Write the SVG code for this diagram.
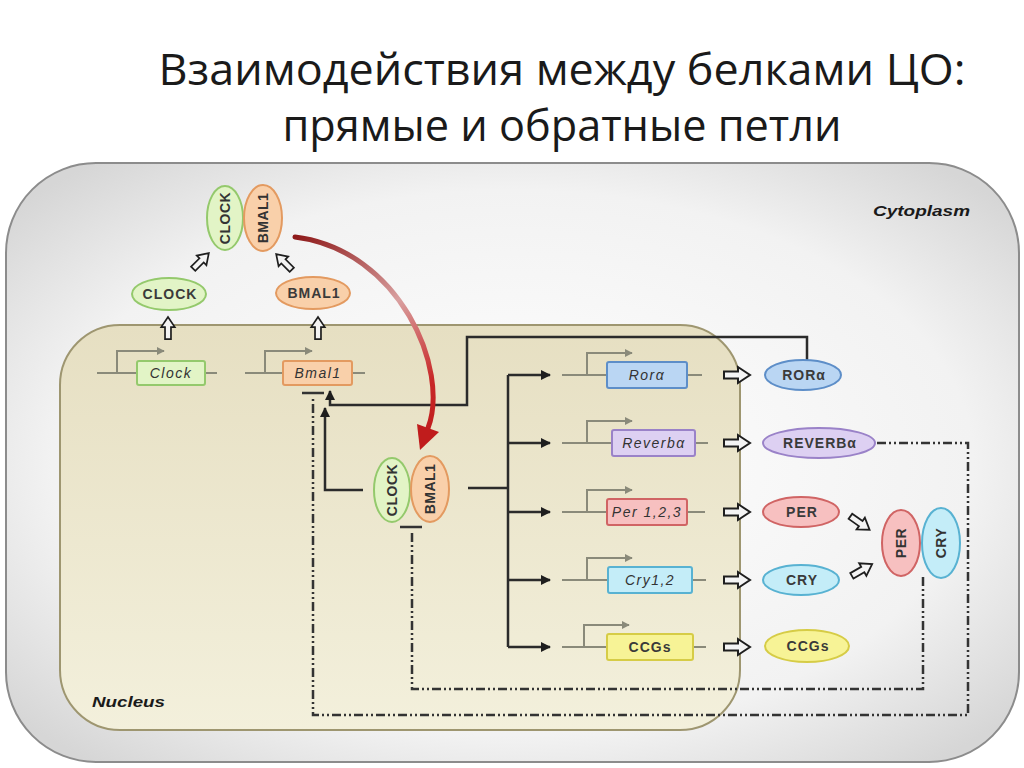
<svg xmlns="http://www.w3.org/2000/svg" width="1024" height="768" viewBox="0 0 1024 768">
<defs>
<style>
.title{font-family:"Open Sans","Liberation Sans",sans-serif;font-size:44px;fill:#1a1a1a;text-anchor:middle}
.lbl{font-family:"Liberation Sans",Arial,sans-serif;font-size:14px;font-weight:bold;fill:#3a3a3a;text-anchor:middle;letter-spacing:1px}
.gene{font-family:"Liberation Sans",Arial,sans-serif;font-size:14px;font-style:italic;fill:#333;text-anchor:middle;letter-spacing:1.5px}
.comp{font-family:"Liberation Sans",Arial,sans-serif;font-size:14px;font-weight:bold;fill:#333;text-anchor:middle;letter-spacing:0.5px}
.region{font-family:"Liberation Sans",Arial,sans-serif;font-size:15px;font-weight:bold;font-style:italic;fill:#1a1a1a}
.ln{fill:none;stroke:#2b2b2b;stroke-width:2.5}
.gl{fill:none;stroke:#8a8a7a;stroke-width:2}
.dd{fill:none;stroke:#333;stroke-width:2.5;stroke-dasharray:9 3 2 3 2 3}
.bar{stroke:#333;stroke-width:2.5}
.g-green{fill:#e2f4c6;stroke:#94c96c;stroke-width:2}
.g-orange{fill:#f9d0aa;stroke:#e39a60;stroke-width:2}
.g-blue{fill:#bad6f3;stroke:#5d8ec8;stroke-width:2}
.g-purple{fill:#ddd0f2;stroke:#9a82c8;stroke-width:2}
.g-red{fill:#f7c0c0;stroke:#d06464;stroke-width:2}
.g-cyan{fill:#c4edf8;stroke:#58b2d2;stroke-width:2}
.g-yellow{fill:#f7f396;stroke:#d6cc46;stroke-width:2}
.harr{fill:#f4f4f4;stroke:#1e1e1e;stroke-width:2;stroke-linejoin:miter}
</style>
<radialGradient id="cyto" cx="0.5" cy="0.5" r="0.65">
<stop offset="0" stop-color="#ffffff"/>
<stop offset="0.7" stop-color="#f2f2f2"/>
<stop offset="1" stop-color="#d6d6d6"/>
</radialGradient>
<linearGradient id="nuc" x1="0" y1="0" x2="0" y2="1">
<stop offset="0" stop-color="#e6dfc2"/>
<stop offset="1" stop-color="#f3f0dc"/>
</linearGradient>
<linearGradient id="red" gradientUnits="userSpaceOnUse" x1="295" y1="237" x2="428" y2="440">
<stop offset="0" stop-color="#8e1a1a"/>
<stop offset="0.45" stop-color="#d9a0a0"/>
<stop offset="0.8" stop-color="#c82828"/>
<stop offset="1" stop-color="#c01c1c"/>
</linearGradient>
<marker id="ah" viewBox="0 0 10 10" refX="9" refY="5" markerWidth="4" markerHeight="4" orient="auto" markerUnits="strokeWidth">
<path d="M0,0 L10,5 L0,10 Z" fill="#1e1e1e"/>
</marker>
<marker id="pa" viewBox="0 0 10 10" refX="9" refY="5" markerWidth="4" markerHeight="4" orient="auto" markerUnits="strokeWidth">
<path d="M0,0 L10,5 L0,10 Z" fill="#8a8a7a"/>
</marker>
<path id="ha" d="M-13,-3.5 H1 V-8 L13,0 L1,8 V3.5 H-13 Z"/>
</defs>

<!-- title -->
<text class="title" x="562" y="85" textLength="807" lengthAdjust="spacingAndGlyphs">Взаимодействия между белками ЦО:</text>
<text class="title" x="562" y="141" textLength="559" lengthAdjust="spacingAndGlyphs">прямые и обратные петли</text>

<!-- compartments -->
<g id="cytoplasm">
<rect x="6" y="163" width="1013" height="599" rx="90" ry="90" fill="url(#cyto)" stroke="#8c8c8c" stroke-width="2"/>
<text class="region" x="873" y="216" textLength="97" lengthAdjust="spacingAndGlyphs">Cytoplasm</text>
</g>
<g id="nucleus">
<rect x="60" y="325" width="680" height="405" rx="60" ry="60" fill="url(#nuc)" stroke="#9e9670" stroke-width="2"/>
<text class="region" x="92" y="707" textLength="73" lengthAdjust="spacingAndGlyphs">Nucleus</text>
</g>

<!-- connectors -->
<g id="connectors">
<path class="gl" d="M97,373 H217"/>
<path class="gl" d="M117,373 V351 H164" marker-end="url(#pa)"/>
<path class="gl" d="M245,373 H365"/>
<path class="gl" d="M265,373 V351 H312" marker-end="url(#pa)"/>
<path class="gl" d="M562,375 H702 M562,443 H708 M562,512 H705 M562,580 H706 M562,647 H706"/>
<path class="gl" d="M587,375 V353 H632" marker-end="url(#pa)"/>
<path class="gl" d="M587,443 V421 H632" marker-end="url(#pa)"/>
<path class="gl" d="M587,512 V490 H632" marker-end="url(#pa)"/>
<path class="gl" d="M587,580 V558 H632" marker-end="url(#pa)"/>
<path class="gl" d="M584,647 V625 H629" marker-end="url(#pa)"/>

<path class="ln" d="M807,360 V337 H467 V405 H330 V391" marker-end="url(#ah)"/>
<path class="ln" d="M363,490 H325 V408" marker-end="url(#ah)"/>
<path class="ln" d="M468,488 H508 M508,375 V647"/>
<path class="ln" d="M508,375 H550" marker-end="url(#ah)"/>
<path class="ln" d="M508,443 H550" marker-end="url(#ah)"/>
<path class="ln" d="M508,512 H550" marker-end="url(#ah)"/>
<path class="ln" d="M508,580 H550" marker-end="url(#ah)"/>
<path class="ln" d="M508,647 H550" marker-end="url(#ah)"/>

<path class="dd" d="M877,443 H968 V715 H313 V396"/>
<line class="bar" x1="302" y1="393" x2="324" y2="393"/>
<path class="dd" d="M923,577 V689 H412 V530"/>
<line class="bar" x1="400" y1="527" x2="422" y2="527"/>

<path d="M295,237 C400,250 450,370 428,428" fill="none" stroke="url(#red)" stroke-width="5" stroke-linecap="round"/>
<polygon points="420,450 439,432 417,424" fill="#c01c1c"/>

<use href="#ha" class="harr" transform="translate(168,328) rotate(-90) scale(0.85)"/>
<use href="#ha" class="harr" transform="translate(318,328) rotate(-90) scale(0.85)"/>
<use href="#ha" class="harr" transform="translate(201,261) rotate(-45) scale(0.85)"/>
<use href="#ha" class="harr" transform="translate(284,262) rotate(-135) scale(0.85)"/>
<use href="#ha" class="harr" transform="translate(737,375)"/>
<use href="#ha" class="harr" transform="translate(737,443)"/>
<use href="#ha" class="harr" transform="translate(737,512)"/>
<use href="#ha" class="harr" transform="translate(737,580)"/>
<use href="#ha" class="harr" transform="translate(737,647)"/>
<use href="#ha" class="harr" transform="translate(860,523) rotate(35) scale(0.9)"/>
<use href="#ha" class="harr" transform="translate(862,570) rotate(-30) scale(0.9)"/>
</g>

<!-- genes -->
<g id="gene-clock"><rect class="g-green" x="137" y="361" width="68" height="24" rx="2"/><text class="gene" x="171" y="378">Clock</text></g>
<g id="gene-bmal1"><rect class="g-orange" x="283" y="361" width="69" height="24" rx="2"/><text class="gene" x="318" y="378">Bmal1</text></g>
<g id="gene-rora"><rect class="g-blue" x="607" y="362" width="80" height="26" rx="2"/><text class="gene" x="647" y="380">Rorα</text></g>
<g id="gene-reverba"><rect class="g-purple" x="612" y="430" width="83" height="26" rx="2"/><text class="gene" x="654" y="448">Reverbα</text></g>
<g id="gene-per"><rect class="g-red" x="607" y="499" width="80" height="26" rx="2"/><text class="gene" x="647" y="517">Per 1,2,3</text></g>
<g id="gene-cry"><rect class="g-cyan" x="608" y="567" width="84" height="26" rx="2"/><text class="gene" x="650" y="585">Cry1,2</text></g>
<g id="gene-ccgs"><rect class="g-yellow" x="607" y="634" width="86" height="26" rx="2"/><text class="lbl" x="650" y="652">CCGs</text></g>

<!-- proteins -->
<g id="prot-clock"><ellipse class="g-green" cx="169" cy="294" rx="37" ry="16"/><text class="lbl" x="170" y="299">CLOCK</text></g>
<g id="prot-bmal1"><ellipse class="g-orange" cx="313" cy="293" rx="37" ry="16"/><text class="lbl" x="314" y="298">BMAL1</text></g>

<g id="complex-cyto">
<ellipse class="g-green" cx="225" cy="218" rx="18" ry="32"/>
<ellipse class="g-orange" cx="263" cy="218" rx="19" ry="33"/>
<text class="comp" transform="translate(230,218) rotate(-90)">CLOCK</text>
<text class="comp" transform="translate(268,218) rotate(-90)">BMAL1</text>
</g>

<g id="complex-nuc">
<ellipse class="g-green" cx="392" cy="490" rx="18" ry="32"/>
<ellipse class="g-orange" cx="430" cy="489" rx="19" ry="33"/>
<text class="comp" transform="translate(397,490) rotate(-90)">CLOCK</text>
<text class="comp" transform="translate(435,489) rotate(-90)">BMAL1</text>
</g>

<g id="prot-rora"><ellipse class="g-blue" cx="803" cy="375" rx="38" ry="15"/><text class="lbl" x="804" y="380">RORα</text></g>
<g id="prot-reverba"><ellipse class="g-purple" cx="819" cy="443" rx="56" ry="15"/><text class="lbl" x="820" y="448">REVERBα</text></g>
<g id="prot-per"><ellipse class="g-red" cx="801" cy="512" rx="38" ry="15"/><text class="lbl" x="802" y="517">PER</text></g>
<g id="prot-cry"><ellipse class="g-cyan" cx="801" cy="580" rx="38" ry="15"/><text class="lbl" x="802" y="585">CRY</text></g>
<g id="prot-ccgs"><ellipse class="g-yellow" cx="807" cy="646" rx="42" ry="16"/><text class="lbl" x="808" y="651">CCGs</text></g>

<g id="complex-percry">
<ellipse class="g-red" cx="901" cy="543" rx="19" ry="33"/>
<ellipse class="g-cyan" cx="941" cy="543" rx="19" ry="35"/>
<text class="comp" transform="translate(906,543) rotate(-90)">PER</text>
<text class="comp" transform="translate(946,543) rotate(-90)">CRY</text>
</g>
</svg>
